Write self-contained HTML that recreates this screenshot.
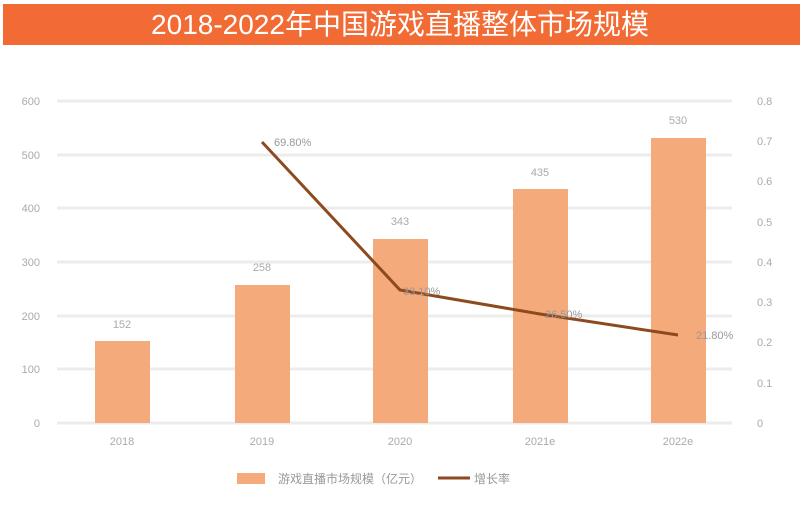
<!DOCTYPE html>
<html><head><meta charset="utf-8"><style>
body{margin:0;width:800px;height:513px;background:#fff;overflow:hidden;font-family:"Liberation Sans","Noto Sans CJK SC",sans-serif}
</style></head><body>
<svg width="800" height="513" xmlns="http://www.w3.org/2000/svg" font-family="Liberation Sans, Noto Sans CJK SC, sans-serif">
<rect x="3" y="4" width="797" height="41" fill="#f26b35"/>
<text x="400" y="34" text-anchor="middle" font-size="28" fill="#fff">2018-2022年中国游戏直播整体市场规模</text>
<g stroke="#ececec" stroke-width="3">
<line x1="57" y1="101" x2="732" y2="101"/><line x1="57" y1="155" x2="732" y2="155"/>
<line x1="57" y1="208" x2="732" y2="208"/><line x1="57" y1="262" x2="732" y2="262"/>
<line x1="57" y1="316" x2="732" y2="316"/><line x1="57" y1="369" x2="732" y2="369"/>
<line x1="57" y1="423" x2="732" y2="423"/>
</g>
<g font-size="11" fill="#aaa">
<g text-anchor="end"><text x="40" y="105">600</text><text x="40" y="159">500</text><text x="40" y="212">400</text><text x="40" y="266">300</text><text x="40" y="320">200</text><text x="40" y="373">100</text><text x="40" y="427">0</text></g>
<g><text x="757" y="105">0.8</text><text x="757" y="145">0.7</text><text x="757" y="185">0.6</text><text x="757" y="226">0.5</text><text x="757" y="266">0.4</text><text x="757" y="306">0.3</text><text x="757" y="346">0.2</text><text x="757" y="387">0.1</text><text x="757" y="427">0</text></g>
<g text-anchor="middle"><text x="122" y="445">2018</text><text x="262" y="445">2019</text><text x="400" y="445">2020</text><text x="540" y="445">2021e</text><text x="678" y="445">2022e</text>
<text x="122" y="328">152</text><text x="262" y="271">258</text><text x="400" y="225">343</text><text x="540" y="176">435</text><text x="678" y="124">530</text></g>
</g>
<g fill="#f4aa7b">
<rect x="95" y="341" width="55" height="82"/><rect x="235" y="285" width="55" height="138"/>
<rect x="373" y="239" width="55" height="184"/><rect x="513" y="189" width="55" height="234"/>
<rect x="651" y="138" width="55" height="285"/>
</g>
<polyline points="262,142 400,290 540,314 678,335" fill="none" stroke="#8e4a1f" stroke-width="3"/>
<g font-size="11" fill="#999"><text x="274" y="146">69.80%</text><text x="403" y="295">33.10%</text><text x="545" y="318">26.50%</text><text x="696" y="339">21.80%</text></g>
<rect x="237" y="473" width="28" height="11" fill="#f4aa7b"/>
<text x="278" y="483" font-size="12" fill="#999">游戏直播市场规模（亿元）</text>
<line x1="438" y1="478" x2="470" y2="478" stroke="#8e4a1f" stroke-width="3"/>
<text x="474" y="483" font-size="12" fill="#999">增长率</text>
</svg>
</body></html>
